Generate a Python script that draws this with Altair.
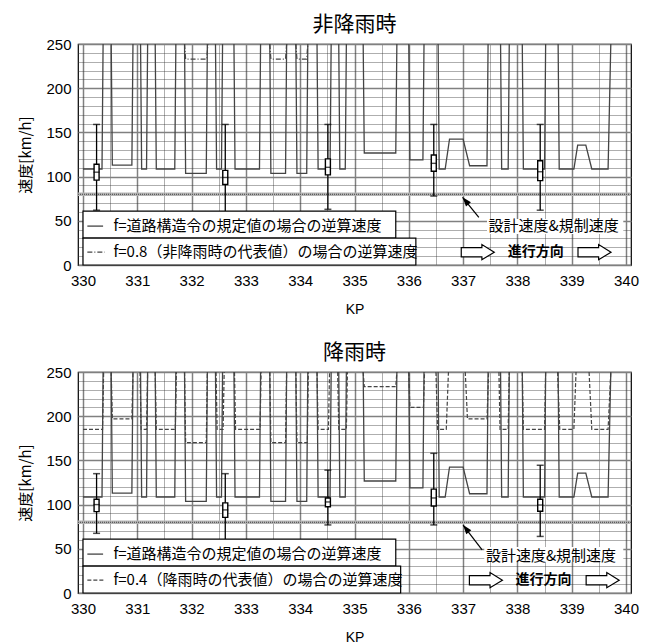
import altair as alt
import pandas as pd

# ---------------- data ----------------
# inverse-calculated speed, f = road structure ordinance value (same in both panels)
std_segments = [
    [(330.00, 108.6), (330.35, 108.6), (330.37, 250)],
    [(330.52, 250), (330.54, 113), (330.90, 113), (330.92, 250)],
    [(331.06, 250), (331.08, 108.6), (331.17, 108.6), (331.19, 250)],
    [(331.33, 250), (331.35, 108.6), (331.69, 108.6), (331.71, 250)],
    [(331.87, 250), (331.89, 103.7), (332.27, 103.7), (332.29, 250)],
    [(332.44, 250), (332.46, 108.6), (332.55, 108.6), (332.57, 250)],
    [(332.78, 250), (332.80, 108.6), (333.25, 108.6), (333.27, 250)],
    [(333.44, 250), (333.46, 103.7), (333.73, 103.7), (333.75, 250)],
    [(333.92, 250), (333.94, 103.7), (334.12, 103.7), (334.14, 250)],
    [(334.31, 250), (334.33, 108.6), (334.55, 108.6), (334.57, 250)],
    [(334.71, 250), (334.73, 108.6), (334.83, 108.6), (334.85, 250)],
    [(335.16, 250), (335.18, 126.7), (335.76, 126.7), (335.78, 250)],
    [(336.00, 250), (336.02, 119.0), (336.26, 119.0), (336.28, 250)],
    [(336.54, 250), (336.56, 108.6), (336.67, 108.6), (336.75, 142.5),
     (337.00, 142.5), (337.12, 112.3), (337.44, 112.3), (337.46, 250)],
    [(337.69, 250), (337.71, 108.6), (337.83, 108.6), (337.85, 250)],
    [(338.09, 250), (338.11, 108.6), (338.50, 108.6), (338.52, 250)],
    [(338.75, 250), (338.77, 108.6), (339.04, 108.6), (339.11, 135.7),
     (339.26, 135.7), (339.37, 108.6), (339.67, 108.6), (339.72, 250)],
]

# f = 0.8 (dry representative value) - top panel
dry_segments = [
    [(331.87, 250), (331.89, 233), (332.28, 233), (332.30, 250)],
    [(333.44, 250), (333.46, 233), (333.73, 233), (333.75, 250)],
    [(333.92, 250), (333.94, 233), (334.12, 233), (334.14, 250)],
]

# f = 0.4 (rain representative value) - bottom panel
wet_segments = [
    [(330.00, 185), (330.36, 185), (330.38, 250)],
    [(330.52, 250), (330.54, 197), (330.90, 197), (330.92, 250)],
    [(331.05, 250), (331.07, 185), (331.17, 185), (331.19, 250)],
    [(331.33, 250), (331.35, 185), (331.70, 185), (331.72, 250)],
    [(331.87, 250), (331.89, 170), (332.27, 170), (332.29, 250)],
    [(332.45, 250), (332.47, 185), (332.58, 185), (332.60, 250)],
    [(332.79, 250), (332.81, 185), (333.26, 185), (333.28, 250)],
    [(333.44, 250), (333.46, 170), (333.73, 170), (333.75, 250)],
    [(333.92, 250), (333.94, 170), (334.13, 170), (334.15, 250)],
    [(334.31, 250), (334.33, 185), (334.52, 185), (334.54, 250)],
    [(334.69, 250), (334.71, 185), (334.85, 185), (334.87, 250)],
    [(335.16, 250), (335.18, 233.5), (335.76, 233.5), (335.78, 250)],
    [(336.00, 250), (336.02, 210), (336.27, 210), (336.29, 250)],
    [(336.50, 250), (336.53, 185), (336.69, 185), (336.73, 250)],
    [(337.04, 250), (337.08, 197), (337.44, 197), (337.47, 250)],
    [(337.66, 250), (337.68, 185), (337.83, 185), (337.85, 250)],
    [(338.09, 250), (338.11, 185), (338.50, 185), (338.52, 250)],
    [(338.74, 250), (338.78, 185), (339.04, 185), (339.08, 250)],
    [(339.32, 250), (339.37, 185), (339.67, 185), (339.72, 250)],
]

# measured speed box plots
box_kp = [330.25, 332.62, 334.51, 336.46, 338.42]
dry_lo = [62, 59, 63, 78, 62]
dry_q1 = [96, 91, 102, 106, 95.5]
dry_med = [105, 99, 110.5, 115, 105.5]
dry_q3 = [114, 107, 120, 124.5, 118]
dry_hi = [159, 159, 159, 159, 159]

wet_lo = [67.5, 60, 77, 77, 64]
wet_q1 = [92, 85.5, 97.5, 98.5, 92.5]
wet_med = [100, 94, 103, 107.5, 99.5]
wet_q3 = [106, 102, 107.5, 117.5, 106]
wet_hi = [135, 135, 139, 158, 144.5]

design_speed = [80]

x_ticks = [330, 330.5, 331, 331.5, 332, 332.5, 333, 333.5, 334, 334.5, 335,
           335.5, 336, 336.5, 337, 337.5, 338, 338.5, 339, 339.5, 340]
y_ticks = [0, 10, 20, 30, 40, 50, 60, 70, 80, 90, 100, 110, 120, 130, 140,
           150, 160, 170, 180, 190, 200, 210, 220, 230, 240, 250]

legend_std = "f=道路構造令の規定値の場合の逆算速度"
legend_dry = "f=0.8（非降雨時の代表値）の場合の逆算速度"
legend_wet = "f=0.4（降雨時の代表値）の場合の逆算速度"
label_design = "設計速度&規制速度"
label_dir = "進行方向"

# ---------------- styling helpers ----------------
JP = "Noto Sans CJK JP"
LAT = "Liberation Sans"
LINE = "#444444"

x_axis = alt.Axis(
    values=x_ticks, title="KP",
    labelExpr="datum.value % 1 === 0 ? format(datum.value, 'd') : ''",
    grid=True,
    gridDash=alt.condition("datum.value % 1 === 0", alt.value([]), alt.value([1, 1])),
    gridColor=alt.condition("datum.value % 1 === 0", alt.value("#808080"), alt.value("#333333")),
    gridWidth=alt.condition("datum.value % 1 === 0", alt.value(1.5), alt.value(0.8)),
    labelFont=LAT, labelFontSize=15, labelColor="#000", labelPadding=8,
    labelFlush=False, labelOverlap=False,
    titleFont=LAT, titleFontSize=14, titleFontWeight="normal", titleColor="#000",
    titlePadding=14, domain=False, ticks=False,
)
y_axis = alt.Axis(
    values=y_ticks, title="速度[km/h]",
    labelExpr="datum.value % 50 === 0 ? format(datum.value, 'd') : ''",
    grid=True,
    gridDash=alt.condition("datum.value % 50 === 0", alt.value([]), alt.value([1, 1])),
    gridColor=alt.condition("datum.value % 50 === 0", alt.value("#808080"), alt.value("#333333")),
    gridWidth=alt.condition("datum.value % 50 === 0", alt.value(1.5), alt.value(0.8)),
    labelFont=LAT, labelFontSize=15, labelColor="#000", labelPadding=7,
    labelFlush=False, labelOverlap=False,
    titleFont=JP, titleFontSize=15, titleFontWeight="normal", titleColor="#000",
    titlePadding=12, domain=False, ticks=False,
)
xs = alt.Scale(domain=[330, 340], nice=False, zero=False)
ys = alt.Scale(domain=[0, 250], nice=False)


def X(f):
    return alt.X(f, type="quantitative", scale=xs, axis=x_axis)


def Y(f):
    return alt.Y(f, type="quantitative", scale=ys, axis=y_axis)


def seg_frame(segs):
    rows = []
    for i, seg in enumerate(segs):
        for j, (kp, v) in enumerate(seg):
            rows.append({"kp": kp, "v": v, "seg": i, "o": j})
    return pd.DataFrame(rows)


def panel(title, alt_segs, alt_dash, alt_legend, lo, q1, med, q3, hi, ann):
    base = alt.Chart(seg_frame(std_segments))
    design = alt.Chart(pd.DataFrame({"v": design_speed}))
    band = design.mark_rule(color="#b5b5b5", strokeWidth=3.5).encode(y=Y("v"))
    band_dot = design.mark_rule(color="#444", strokeWidth=1, strokeDash=[1, 1]).encode(y=Y("v"))

    std_line = base.mark_line(color=LINE, strokeWidth=1.3, clip=True).encode(
        x=X("kp"), y=Y("v"), detail="seg:N", order="o:Q")
    alt_line = alt.Chart(seg_frame(alt_segs)).mark_line(
        color=LINE, strokeWidth=1.2, strokeDash=alt_dash, clip=True).encode(
        x=X("kp"), y=Y("v"), detail="seg:N", order="o:Q")

    bx = alt.Chart(pd.DataFrame({"kp": box_kp, "lo": lo, "q1": q1, "med": med, "q3": q3, "hi": hi}))
    whisk = bx.mark_rule(color="#000", strokeWidth=1.3).encode(x=X("kp"), y=Y("lo"), y2="hi")
    cap_lo = bx.mark_tick(color="#000", orient="horizontal", size=7, thickness=1.5).encode(x=X("kp"), y=Y("lo"))
    cap_hi = bx.mark_tick(color="#000", orient="horizontal", size=7, thickness=1.5).encode(x=X("kp"), y=Y("hi"))
    box = bx.mark_bar(size=5, fill="white", stroke="#000", strokeWidth=1.4).encode(x=X("kp"), y=Y("q1"), y2="q3")
    med_t = bx.mark_tick(color="#000", orient="horizontal", size=6, thickness=1.4).encode(x=X("kp"), y=Y("med"))

    # legend boxes
    leg_box = alt.Chart(pd.DataFrame({
        "x1": [330, 330], "x2": [335.76, ann["box2_right"]],
        "y1": [30.5, 0], "y2": [61, 30.5]})).mark_rect(
        fill="white", stroke="#000", strokeWidth=1.2).encode(
        x=X("x1"), x2="x2", y=Y("y1"), y2="y2")
    samp1 = alt.Chart(pd.DataFrame({"a": [330.08], "b": [330.37], "v": [44]})).mark_rule(
        color=LINE, strokeWidth=1.3).encode(x=X("a"), x2="b", y=Y("v"))
    samp2 = alt.Chart(pd.DataFrame({"a": [330.08], "b": [330.40], "v": [14.5]})).mark_rule(
        color=LINE, strokeWidth=1.2, strokeDash=alt_dash).encode(x=X("a"), x2="b", y=Y("v"))
    leg_txt = alt.Chart(pd.DataFrame({
        "kp": [330.56, 330.56], "v": [44, 14.5], "t": [legend_std, alt_legend]})).mark_text(
        align="left", baseline="middle", font=JP, fontSize=15, color="#000").encode(
        x=X("kp"), y=Y("v"), text="t:N")

    # design speed annotation
    dbg = alt.Chart(pd.DataFrame({"a": [ann["txt_kp"] - 0.03], "b": [339.95], "y1": [35], "y2": [52]})).mark_rect(
        fill="white").encode(x=X("a"), x2="b", y=Y("y1"), y2="y2")
    dtxt = alt.Chart(pd.DataFrame({"kp": [ann["txt_kp"]], "v": [ann["txt_v"]], "t": [label_design]})).mark_text(
        align="left", baseline="middle", font=JP, fontSize=15, color="#000").encode(
        x=X("kp"), y=Y("v"), text="t:N")
    arr_line = alt.Chart(pd.DataFrame({"a": [ann["tail"][0]], "b": [ann["tip"][0]],
                                       "v1": [ann["tail"][1]], "v2": [ann["tip"][1]]})).mark_rule(
        color="#000", strokeWidth=1.2).encode(x=X("a"), x2="b", y=Y("v1"), y2="v2")
    arr_head = alt.Chart(pd.DataFrame({"kp": [ann["tip"][0]], "v": [ann["tip"][1]]})).mark_point(
        shape="M0,0 L-0.35,1 L0.35,1 Z", size=340, filled=True, color="#000", opacity=1,
        angle=ann["angle"]).encode(x=X("kp"), y=Y("v"))

    # direction arrows
    blk = alt.Chart(pd.DataFrame({"kp": ann["blk_kp"], "v": [14.5, 14.5]})).mark_point(
        shape="M-1,-0.28 L0.25,-0.28 L0.25,-0.46 L1,0 L0.25,0.46 L0.25,0.28 L-1,0.28 Z",
        size=1090, filled=True, fill="white", stroke="#000", strokeWidth=1.2, opacity=1).encode(
        x=X("kp"), y=Y("v"))
    dir_txt = alt.Chart(pd.DataFrame({"kp": [ann["dir_kp"]], "v": [15], "t": [label_dir]})).mark_text(
        align="center", baseline="middle", font=JP, fontSize=14, fontWeight="bold", color="#000").encode(
        x=X("kp"), y=Y("v"), text="t:N")

    return alt.layer(
        band, band_dot, std_line, alt_line, whisk, box, med_t, cap_lo, cap_hi,
        leg_box, samp1, samp2, leg_txt, dbg, dtxt, arr_line, arr_head, blk, dir_txt,
    ).properties(
        width=553, height=221,
        title=alt.TitleParams(title, font=JP, fontSize=21, fontWeight="normal", color="#000", offset=2),
    )


top = panel("非降雨時", dry_segments, [5, 2, 1, 2], legend_dry,
            dry_lo, dry_q1, dry_med, dry_q3, dry_hi,
            {"box2_right": 336.13, "txt_kp": 337.47, "txt_v": 43.8,
             "tail": (337.29, 54), "tip": (336.99, 76.5), "angle": 320,
             "blk_kp": [337.27, 339.42], "dir_kp": 338.34})
bottom = panel("降雨時", wet_segments, [4, 2], legend_wet,
               wet_lo, wet_q1, wet_med, wet_q3, wet_hi,
               {"box2_right": 335.85, "txt_kp": 337.42, "txt_v": 42.4,
                "tail": (337.35, 48.8), "tip": (337.0, 76.9), "angle": 322,
                "blk_kp": [337.42, 339.57], "dir_kp": 338.48})

chart = alt.vconcat(top, bottom, spacing=24).properties(
    padding={"left": 10, "top": 5, "right": 2, "bottom": 2},
    background="white",
).configure_view(stroke="#000", strokeWidth=1.2)

chart.save("out.html", embed_options={"renderer": "svg", "actions": False})
